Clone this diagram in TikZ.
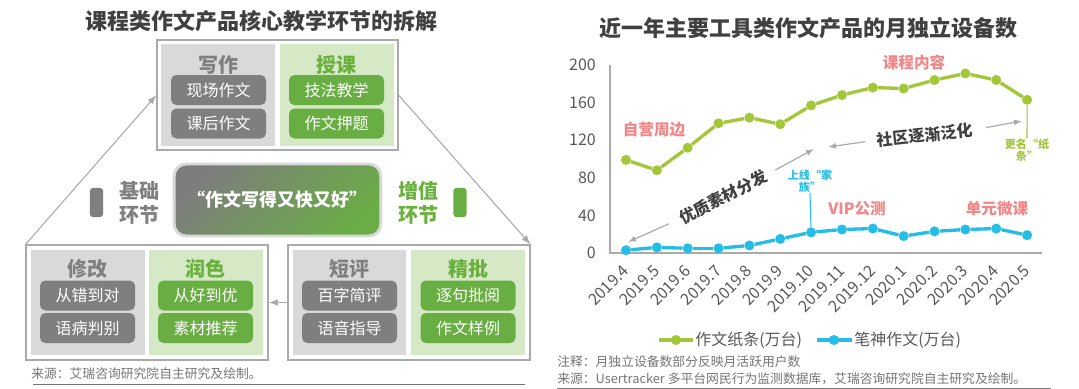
\documentclass[tikz,border=0pt]{standalone}
\usepackage{fontspec}
\setmainfont{Noto Sans CJK SC}
\usepackage{xcolor}
\usetikzlibrary{arrows.meta}

\definecolor{framegray}{RGB}{170,170,170}
\definecolor{panelgray}{RGB}{217,217,217}
\definecolor{panelgreen}{RGB}{213,233,199}
\definecolor{pillgray}{RGB}{127,127,127}
\definecolor{pillgreen}{RGB}{104,174,66}
\definecolor{headgray}{RGB}{128,128,128}
\definecolor{headgreen}{RGB}{106,176,60}
\definecolor{titlegray}{RGB}{64,64,64}
\definecolor{linegreen}{RGB}{164,198,57}
\definecolor{lineblue}{RGB}{35,189,232}
\definecolor{annpink}{RGB}{242,135,135}
\definecolor{axisgray}{RGB}{89,89,89}
\definecolor{notegray}{RGB}{118,118,118}
\definecolor{coregray}{RGB}{125,125,125}
\definecolor{coregreen}{RGB}{106,172,70}

\tikzset{
  box/.style={draw=framegray, line width=0.8pt, fill=white, inner sep=0pt},
  pill/.style={rounded corners=4pt, text=white, minimum width=71.25pt, minimum height=22.5pt, inner sep=0pt, font=\fontsize{12}{14}\selectfont},
  graypill/.style={pill, fill=pillgray},
  greenpill/.style={pill, fill=pillgreen},
  head/.style={font=\fontsize{15}{18}\selectfont\bfseries, inner sep=0pt, align=center},
  sidebar/.style={rounded corners=2.5pt, minimum width=10pt, minimum height=22pt, inner sep=0pt},
  conn/.style={draw=framegray, line width=0.8pt, -{Latex[length=7pt,width=5pt]}},
  maintitle/.style={font=\fontsize{16.5}{18}\selectfont\bfseries, text=titlegray},
  gline/.style={draw=linegreen, line width=2.5pt},
  bline/.style={draw=lineblue, line width=2.5pt},
  gdot/.style={circle, fill=linegreen, minimum size=7.5pt, inner sep=0pt},
  bdot/.style={circle, fill=lineblue, minimum size=7.5pt, inner sep=0pt},
  ticklab/.style={font=\fontsize{12}{14}\selectfont, text=axisgray, inner sep=0pt},
  ann/.style={font=\fontsize{11.7}{14}\selectfont\bfseries, text=annpink},
  trend/.style={font=\fontsize{12}{14}\selectfont\bfseries, text=titlegray, inner sep=0pt},
  tarrow/.style={draw=framegray, line width=0.9pt, -{Latex[length=6pt,width=4.5pt]}},
  smallann/.style={font=\fontsize{8.3}{9}\selectfont\bfseries, align=center, inner sep=0pt},
  legtext/.style={font=\fontsize{12}{14}\selectfont, text=axisgray, inner sep=0pt, anchor=west},
  note/.style={font=\fontsize{9.6}{11}\selectfont, text=notegray, inner sep=0pt, anchor=west},
}

\begin{document}
\begin{tikzpicture}[x=0.75pt, y=-0.75pt]
    \useasboundingbox[fill=white] (0,0) rectangle (1079,389);

    \node[maintitle] (lefttitle) at (261,21) {课程类作文产品核心教学环节的拆解};

    \node[box, minimum width=180.75pt, minimum height=82.5pt] (topbox) at (277.5,95) {};
    \fill[panelgray] (161,44) rectangle (275,146);
    \fill[panelgreen] (280,44) rectangle (394,146);
    \node[head, text=headgray] (xiezuo) at (218.5,65) {写作};
    \node[head, text=headgreen] (shouke) at (336.5,65) {授课};
    \node[graypill] (xczw) at (218.5,90) {现场作文};
    \node[graypill] (khzw) at (218.5,123.5) {课后作文};
    \node[greenpill] (jfjx) at (336.5,90) {技法教学};
    \node[greenpill] (zwyt) at (336.5,123.5) {作文押题};

    \node[box, minimum width=181.5pt, minimum height=86.25pt] (blbox) at (147,302.5) {};
    \fill[panelgray] (31,250) rectangle (145,355);
    \fill[panelgreen] (149,250) rectangle (263,355);
    \node[head, text=headgray] (xiugai) at (87.5,269) {修改};
    \node[head, text=headgreen] (runse) at (205.5,269) {润色};
    \node[graypill] (cocd) at (87.5,295.5) {从错到对};
    \node[graypill] (ybpb) at (87.5,328) {语病判别};
    \node[greenpill] (chdy) at (205.5,295.5) {从好到优};
    \node[greenpill] (sctj) at (205.5,328) {素材推荐};

    \node[box, minimum width=181.5pt, minimum height=86.25pt] (brbox) at (409,302.5) {};
    \fill[panelgray] (293,250) rectangle (406,355);
    \fill[panelgreen] (411,250) rectangle (525,355);
    \node[head, text=headgray] (duanping) at (349.5,269) {短评};
    \node[head, text=headgreen] (jingpi) at (468,269) {精批};
    \node[graypill] (bzjp) at (349.5,295.5) {百字简评};
    \node[graypill] (yyzd) at (349.5,328) {语音指导};
    \node[greenpill] (zjpy) at (468,295.5) {逐句批阅};
    \node[greenpill] (zwyl) at (468,328) {作文样例};

    \node[rounded corners=9pt, draw=panelgray, line width=2.2pt, top color=coregray, bottom color=coregreen, shading angle=45,
          minimum width=155pt, minimum height=54pt, text=white, font=\fontsize{13.5}{16}\selectfont\bfseries] (core) at (277.5,200) {“作文写得又快又好”};
    \node[head, text=headgray] (jichu) at (139,203) {基础\\环节};
    \node[sidebar, fill=pillgray] (jcbar) at (96.5,202.5) {};
    \node[head, text=headgreen] (zengzhi) at (418,203) {增值\\环节};
    \node[sidebar, fill=pillgreen] (zzbar) at (460,202.5) {};

    \draw[conn] (blbox.north west) -- (topbox.west);
    \draw[conn] (topbox.east) -- (brbox.north east);
    \draw[conn] (brbox.west) -- (blbox.east);

    \node[note] (leftsrc) at (31,374) {来源：艾瑞咨询研究院自主研究及绘制。};
    \draw[draw=notegray, line width=0.6pt] (33,384) -- (525,384);

    \node[maintitle] (righttitle) at (808,28) {近一年主要工具类作文产品的月独立设备数};

    \draw[draw=framegray, line width=1.4pt] (610,65) -- (610,253) -- (1042,253);

    \begin{scope}[shift={(626,253)}, x=23.14pt, y=0.705pt]
        \foreach \t in {0,40,...,200}
            \node[ticklab, anchor=east] (y\t) at (-0.97,\t) {\t};
        \foreach \m [count=\i from 0] in {2019.4,2019.5,2019.6,2019.7,2019.8,2019.9,2019.10,2019.11,2019.12,2020.1,2020.2,2020.3,2020.4,2020.5}
            \node[ticklab, rotate=45, anchor=east] (x\i) at (\i,-16) {\m};

        \foreach \v [count=\i from 0] in {99,88,112,138,144,137,157,168,176,175,184,191,184,163}
            \node[gdot] (g\i) at (\i,\v) {};
        \foreach \i [evaluate=\i as \j using int(\i+1)] in {0,...,12}
            \draw[gline] (g\i) -- (g\j);

        \foreach \v [count=\i from 0] in {3,6,5,5,8,15,22,25,26,18,23,25,26,19}
            \node[bdot] (b\i) at (\i,\v) {};
        \foreach \i [evaluate=\i as \j using int(\i+1)] in {0,...,12}
            \draw[bline] (b\i) -- (b\j);
    \end{scope}

    \node[ann] (zyzb) at (654,130) {自营周边};
    \node[ann] (kcnr) at (914,62) {课程内容};
    \node[ann] (vipcs) at (857,209) {VIP公测};
    \node[ann] (dywk) at (997,209) {单元微课};

    \node[trend, rotate=27] (sucai) at (723,197) {优质素材分发};
    \node[trend, rotate=6] (shequ) at (925,135) {社区逐渐泛化};
    \coordinate (sc1) at (628,242);
    \coordinate (sc2) at (814,149);
    \coordinate (sq1) at (828,147);
    \coordinate (sq2) at (1022,121);
    \draw[tarrow, shorten <=9pt] (sucai.west) -- (sc1);
    \draw[tarrow, shorten <=8pt] (sucai.east) -- (sc2);
    \draw[tarrow, shorten <=9pt] (shequ.west) -- (sq1);
    \draw[tarrow, shorten <=10pt] (shequ.east) -- (sq2);

    \node[smallann, text=linegreen] (gengming) at (1027,150) {更名“纸\\条”};
    \draw[draw=linegreen, line width=0.8pt] (g13) -- (gengming.north);
    \node[smallann, text=lineblue] (jiazu) at (810,181) {上线“家\\族”};
    \draw[draw=lineblue, line width=0.8pt] (jiazu.south) -- (b6);

    \draw[gline] (659,340) -- (693,340);
    \node[gdot] (lgg) at (676,340) {};
    \node[legtext] (lggt) at (695,340) {作文纸条(万台)};
    \draw[bline] (817,340) -- (852,340);
    \node[bdot] (lgb) at (834,340) {};
    \node[legtext] (lgbt) at (854,340) {笔神作文(万台)};

    \node[note] (rightnote) at (557,362) {注释：月独立设备数部分反映月活跃用户数};
    \node[note] (rightsrc) at (557,379) {来源：Usertracker 多平台网民行为监测数据库，艾瑞咨询研究院自主研究及绘制。};
    \draw[draw=notegray, line width=0.6pt] (557,388) -- (1051,388);
\end{tikzpicture}
\end{document}
